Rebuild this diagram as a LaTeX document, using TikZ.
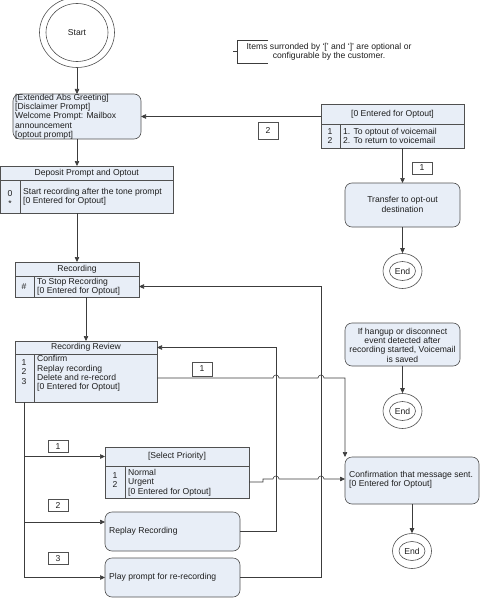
\documentclass[tikz,border=0pt]{standalone}
\usepackage{fontspec}
\setmainfont{Liberation Sans}
\usetikzlibrary{arrows.meta,shapes.geometric}
\definecolor{boxfill}{RGB}{232,238,247}
\definecolor{bord}{RGB}{80,80,80}
\definecolor{txtc}{RGB}{30,30,30}
\definecolor{linec}{RGB}{60,60,60}
\begin{document}
\begin{tikzpicture}[x=1pt,y=-1pt,
  fnt/.style={font=\fontsize{8.6}{9.35}\selectfont, text=txtc},
  box/.style={draw=bord, fill=boxfill, line width=0.6pt, inner sep=0pt, outer sep=0pt},
  rbox/.style={box, rounded corners=7pt},
  txt/.style={fnt, inner sep=0pt, align=left, anchor=west},
  ctxt/.style={fnt, inner sep=0pt, align=center},
  conn/.style={draw=linec, line width=0.6pt},
  arr/.style={conn, -{Triangle[length=5pt,width=4.5pt]}},
  inl/.style={draw=bord, line width=0.6pt},
  lab/.style={draw=bord, fill=white, line width=0.6pt, minimum width=20pt, inner sep=0pt, fnt},
  ring/.style={draw=bord, line width=0.6pt, ellipse, inner sep=0pt, fill=white}
]
\useasboundingbox (0,0) rectangle (480,599);

% Start
\node[ring, minimum width=75pt, minimum height=70pt] (start) at (77,32.5) {};
\node[ring, minimum width=62pt, minimum height=58pt] (startin) at (77,32.5) {};
\node[ctxt] (starttxt) at (77,32.5) {Start};

% Note
\draw[conn] (268,40) -- (237,40) -- (237,63) -- (268,63);
\draw[conn] (233,51.5) -- (237,51.5);
\node[ctxt] (notetxt) at (329,51.5) {Items surronded by ‘[’ and ‘]’ are optional or\\configurable by the customer.};

% Greeting
\node[rbox, minimum width=128pt, minimum height=45pt] (greet) at (77,116.5) {};
\node[txt] (greettxt) at (15,116.5) {{[}Extended Abs Greeting]\\{[}Disclaimer Prompt]\\Welcome Prompt: Mailbox\\announcement\\{[}optout prompt]};

% Deposit
\node[box, minimum width=172.5pt, minimum height=47pt] (dep) at (86.75,189.5) {};
\draw[inl] (0.5,180) -- (173,180);
\draw[inl] (20,180) -- (20,213);
\node[ctxt] (dephead) at (86.75,173) {Deposit Prompt and Optout};
\node[ctxt] (depkeys) at (10,198.5) {0\\*};
\node[txt] (deptxt) at (23,197) {Start recording after the tone prompt\\{[}0 Entered for Optout]};

% Recording
\node[box, minimum width=124pt, minimum height=35pt] (rec) at (77,279.5) {};
\draw[inl] (15,276) -- (139,276);
\draw[inl] (34,276) -- (34,297);
\node[ctxt] (rechead) at (77,269) {Recording};
\node[ctxt] (reckeys) at (24,287) {\#};
\node[txt] (rectxt) at (37,286.5) {To Stop Recording\\{[}0 Entered for Optout]};

% Recording Review
\node[box, minimum width=142pt, minimum height=61pt] (rev) at (86,371.5) {};
\draw[inl] (15,354) -- (157,354);
\draw[inl] (34,354) -- (34,402);
\node[ctxt] (revhead) at (86,347.5) {Recording Review};
\node[ctxt] (revkeys) at (24,372) {1\\2\\3};
\node[txt] (revtxt) at (37,373.5) {Confirm\\Replay recording\\Delete and re-record\\{[}0 Entered for Optout]};

% Select Priority
\node[box, minimum width=144pt, minimum height=51pt] (sel) at (177,472.5) {};
\draw[inl] (105,466) -- (249,466);
\draw[inl] (125,466) -- (125,498);
\node[ctxt] (selhead) at (177,456.5) {{[}Select Priority]};
\node[ctxt] (selkeys) at (115,480) {1\\2};
\node[txt] (seltxt) at (128,482.5) {Normal\\Urgent\\{[}0 Entered for Optout]};

% Optout
\node[box, minimum width=143pt, minimum height=44pt] (opt) at (392.5,126) {};
\draw[inl] (321,124) -- (464,124);
\draw[inl] (340,124) -- (340,148);
\node[ctxt] (opthead) at (392.5,114) {{[}0 Entered for Optout]};
\node[ctxt] (optkeys) at (330,136) {1\\2};
\node[txt] (opttxt) at (343,136) {1. To optout of voicemail\\2. To return to voicemail};

% Transfer
\node[rbox, minimum width=115pt, minimum height=44pt] (xfer) at (402.5,205) {};
\node[ctxt] (xfertxt) at (402.5,204.5) {Transfer to opt-out\\destination};
\node[ring, minimum width=39pt, minimum height=35pt] (end1) at (402.5,271) {};
\node[ring, minimum width=26pt, minimum height=19pt] (end1in) at (402.5,271) {};
\node[ctxt] (end1txt) at (402.5,271) {End};

% Hangup
\node[rbox, minimum width=115pt, minimum height=43pt] (hang) at (402.5,344.5) {};
\node[ctxt] (hangtxt) at (402.5,345) {If hangup or disconnect\\event detected after\\recording started, Voicemail\\is saved};
\node[ring, minimum width=39pt, minimum height=35pt] (end2) at (402.5,411) {};
\node[ring, minimum width=26pt, minimum height=19pt] (end2in) at (402.5,411) {};
\node[ctxt] (end2txt) at (402.5,411) {End};

% Confirmation
\node[rbox, minimum width=134pt, minimum height=47pt] (conf) at (412,480.5) {};
\node[txt] (conftxt) at (349,479.5) {Confirmation that message sent.\\{[}0 Entered for Optout]};
\node[ring, minimum width=39pt, minimum height=35pt] (end3) at (412,551) {};
\node[ring, minimum width=26pt, minimum height=19pt] (end3in) at (412,551) {};
\node[ctxt] (end3txt) at (412,551) {End};

% Replay / Play
\node[rbox, minimum width=135pt, minimum height=39pt] (replay) at (172.5,531.5) {};
\node[txt] (replaytxt) at (109,531) {Replay Recording};
\node[rbox, minimum width=135pt, minimum height=39pt] (play) at (172.5,577.5) {};
\node[txt] (playtxt) at (109,577) {Play prompt for re-recording};

% Connectors
\draw[arr] (start.south) -- (greet.north);
\draw[arr] (greet.south) -- (greet.south |- dep.north);
\draw[arr] (rec.north |- dep.south) -- (rec.north);
\draw[arr] (rev.north |- rec.south) -- (rev.north);
\draw[arr] (opt.west |- greet.east) -- (greet.east);
\draw[arr] (xfer.north |- opt.south) -- (xfer.north);
\draw[arr] (xfer.south) -- (end1.north);
\draw[arr] (hang.south) -- (end2.north);
\draw[arr] (conf.south) -- (end3.north);

\coordinate (jB) at (321,286.5);
\draw[arr] (play.east) -| (jB) -- (rec.east |- jB);
\coordinate (jA) at (276,347.5);
\draw[arr] (replay.east) -| (jA) -- (rev.east |- jA);

\coordinate (revout) at (157,378);
\draw[arr] (revout) -- (273,378) arc[start angle=180,end angle=0,radius=3pt]
  -- (318,378) arc[start angle=180,end angle=0,radius=3pt]
  -- (345,378) -- (conf.north west);

\coordinate (selout) at (249,482);
\coordinate (selstep) at (263,479);
\draw[arr] (selout) -- (selout -| selstep) -- (selstep) -- (273,479) arc[start angle=180,end angle=0,radius=3pt]
  -- (318,479) arc[start angle=180,end angle=0,radius=3pt]
  -- (conf.west |- selstep);

\coordinate (t1) at (24,456.5);
\coordinate (t2) at (24,522);
\coordinate (t3) at (24,577.5);
\draw[conn] (rev.south -| t1) -- (t3);
\draw[arr] (t1) -- (sel.west |- t1);
\draw[arr] (t2) -- (replay.west |- t2);
\draw[arr] (t3) -- (play.west |- t3);

% Labels
\node[lab, minimum height=17pt] (l2a) at (268,130.5) {2};
\node[lab, minimum height=12pt] (l1a) at (422,168) {1};
\node[lab, minimum height=14pt] (l1b) at (202,369) {1};
\node[lab, minimum height=12pt] (l1c) at (58,446.5) {1};
\node[lab, minimum height=12pt] (l2b) at (58,505.5) {2};
\node[lab, minimum height=12pt] (l3b) at (58,558.5) {3};
\end{tikzpicture}
\end{document}
